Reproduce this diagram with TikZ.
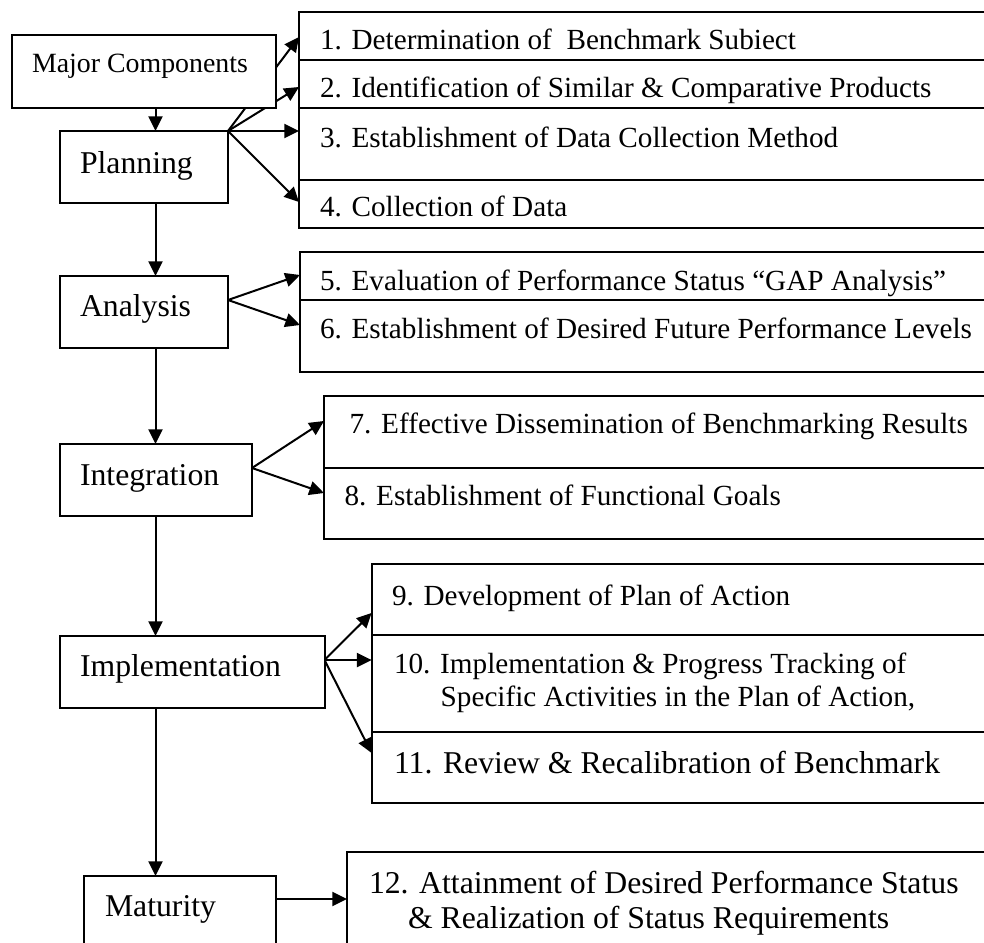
\documentclass[tikz,border=0pt]{standalone}
\usepackage{fontspec}
\setmainfont{Liberation Serif}
\usetikzlibrary{arrows.meta,calc}
\pgfdeclarelayer{paper}
\pgfdeclarelayer{bg}
\pgfsetlayers{paper,bg,main}
\def\PX{0.75pt}
\tikzset{
  box/.style={draw, fill=white, line width=1.5pt, inner sep=0pt, outer sep=0pt},
  lbl/.style={inner sep=0pt, outer sep=0pt, anchor=base west},
  stagefont/.style={font=\fontsize{23.8}{28}\selectfont},
  itemfont/.style={font=\fontsize{21.9}{25}\selectfont},
  bigitem/.style={font=\fontsize{23.8}{28}\selectfont},
  mcfont/.style={font=\fontsize{20.9}{25}\selectfont},
  arr/.style={line width=1.5pt, -{Triangle[length=11pt,width=10.5pt]}},
}
\begin{document}
\begin{tikzpicture}[x=0.75pt, y=-0.75pt]
\useasboundingbox (0,0) rectangle (984,942);
\clip (0,0) rectangle (984,942);
\begin{pgfonlayer}{paper}
\fill[white] (0,0) rectangle (984,942);
\end{pgfonlayer}
\coordinate (vx) at (155.5,0);
% stage boxes
\node[box, minimum width=264*\PX, minimum height=73*\PX] (mc) at (144,71.5) {};
\node[box, minimum width=168*\PX, minimum height=72*\PX] (plan) at (144,167) {};
\node[box, minimum width=168*\PX, minimum height=72*\PX] (anal) at (144,312) {};
\node[box, minimum width=192*\PX, minimum height=72*\PX] (integ) at (156,480) {};
\node[box, minimum width=264.5*\PX, minimum height=72*\PX] (impl) at (192.25,672) {};
\node[box, minimum width=192*\PX, minimum height=74*\PX] (mat) at (180,913) {};
% item boxes
\node[box, minimum width=701*\PX, minimum height=48*\PX] (b1) at (649.5,36) {};
\node[box, minimum width=701*\PX, minimum height=48*\PX] (b2) at (649.5,84) {};
\node[box, minimum width=701*\PX, minimum height=72*\PX] (b3) at (649.5,144) {};
\node[box, minimum width=701*\PX, minimum height=48*\PX] (b4) at (649.5,204) {};
\node[box, minimum width=700*\PX, minimum height=48*\PX] (b5) at (650,276) {};
\node[box, minimum width=700*\PX, minimum height=72*\PX] (b6) at (650,336) {};
\node[box, minimum width=676*\PX, minimum height=72*\PX] (b7) at (662,432) {};
\node[box, minimum width=676*\PX, minimum height=71*\PX] (b8) at (662,503.5) {};
\node[box, minimum width=628.4*\PX, minimum height=71*\PX] (b9) at (685.8,599.5) {};
\node[box, minimum width=628.4*\PX, minimum height=97*\PX] (b10) at (685.8,683.5) {};
\node[box, minimum width=628.4*\PX, minimum height=71*\PX] (b11) at (685.8,767.5) {};
\node[box, minimum width=653*\PX, minimum height=118*\PX] (b12) at (673.5,911) {};
% labels
\node[lbl, mcfont] (tmc) at (32,73) {Major Components};
\node[lbl, stagefont] (tplan) at (80,173) {Planning};
\node[lbl, stagefont] (tanal) at (80,316) {Analysis};
\node[lbl, stagefont] (tinteg) at (80,485) {Integration};
\node[lbl, stagefont] (timpl) at (80,676) {Implementation};
\node[lbl, stagefont] (tmat) at (105,916) {Maturity};
\node[lbl, itemfont] (t1) at (320,50) {1. Determination of\ \ Benchmark Subiect};
\node[lbl, itemfont] (t2) at (320,98) {2. Identification of Similar \& Comparative Products};
\node[lbl, itemfont] (t3) at (320,147) {3. Establishment of Data Collection Method};
\node[lbl, itemfont] (t4) at (320,216) {4. Collection of Data};
\node[lbl, itemfont] (t5) at (320,290) {5. Evaluation of Performance Status “GAP Analysis”};
\node[lbl, itemfont] (t6) at (320,338) {6. Establishment of Desired Future Performance Levels};
\node[lbl, itemfont] (t7) at (349.6,433) {7. Effective Dissemination of Benchmarking Results};
\node[lbl, itemfont] (t8) at (344.6,505) {8. Establishment of Functional Goals};
\node[lbl, itemfont] (t9) at (392,605) {9. Development of Plan of Action};
\node[lbl, itemfont] (t10a) at (394,673) {10. Implementation \& Progress Tracking of};
\node[lbl, itemfont] (t10b) at (440.7,706) {Specific Activities in the Plan of Action,};
\node[lbl, bigitem] (t11) at (394,773) {11. Review \& Recalibration of Benchmark};
\node[lbl, bigitem] (t12a) at (369,893) {12. Attainment of Desired Performance Status};
\node[lbl, bigitem] (t12b) at (408,928) {\& Realization of Status Requirements};
% apex points
\coordinate (apA) at (anal.east |- b5.south);
\coordinate (apI) at (integ.east |- b7.south);
\coordinate (apM) at ($(impl.north east)+(0,24)$);
\coordinate (apT) at ($(mat.north east)+(0,23)$);
\begin{pgfonlayer}{bg}
% vertical flow
\draw[arr] (mc.south -| vx) -- (plan.north -| vx);
\draw[arr] (plan.south -| vx) -- (anal.north -| vx);
\draw[arr] (anal.south -| vx) -- (integ.north -| vx);
\draw[arr] (integ.south -| vx) -- (impl.north -| vx);
\draw[arr] (impl.south -| vx) -- (mat.north -| vx);
% planning
\draw[arr] (plan.north east) -- ($(b1.north west)+(0,25)$);
\draw[arr] (plan.north east) -- ($(b2.north west)+(0,27)$);
\draw[arr] (plan.north east) -- (plan.north east -| b3.west);
\draw[arr] (plan.north east) -- ($(b4.north west)+(0,22)$);
% analysis
\draw[arr] (apA) -- ($(b5.north west)+(0,23)$);
\draw[arr] (apA) -- ($(b6.north west)+(0,25)$);
% integration
\draw[arr] (apI) -- ($(b7.north west)+(0,25)$);
\draw[arr] (apI) -- ($(b8.north west)+(0,25)$);
% implementation
\draw[arr] (apM) -- ($(b9.north west)+(0,49)$);
\draw[arr] (apM) -- (apM -| b10.west);
\draw[arr] (apM) -- ($(b11.north west)+(0,21)$);
% maturity
\draw[arr] (apT) -- (apT -| b12.west);
\end{pgfonlayer}
\end{tikzpicture}
\end{document}
